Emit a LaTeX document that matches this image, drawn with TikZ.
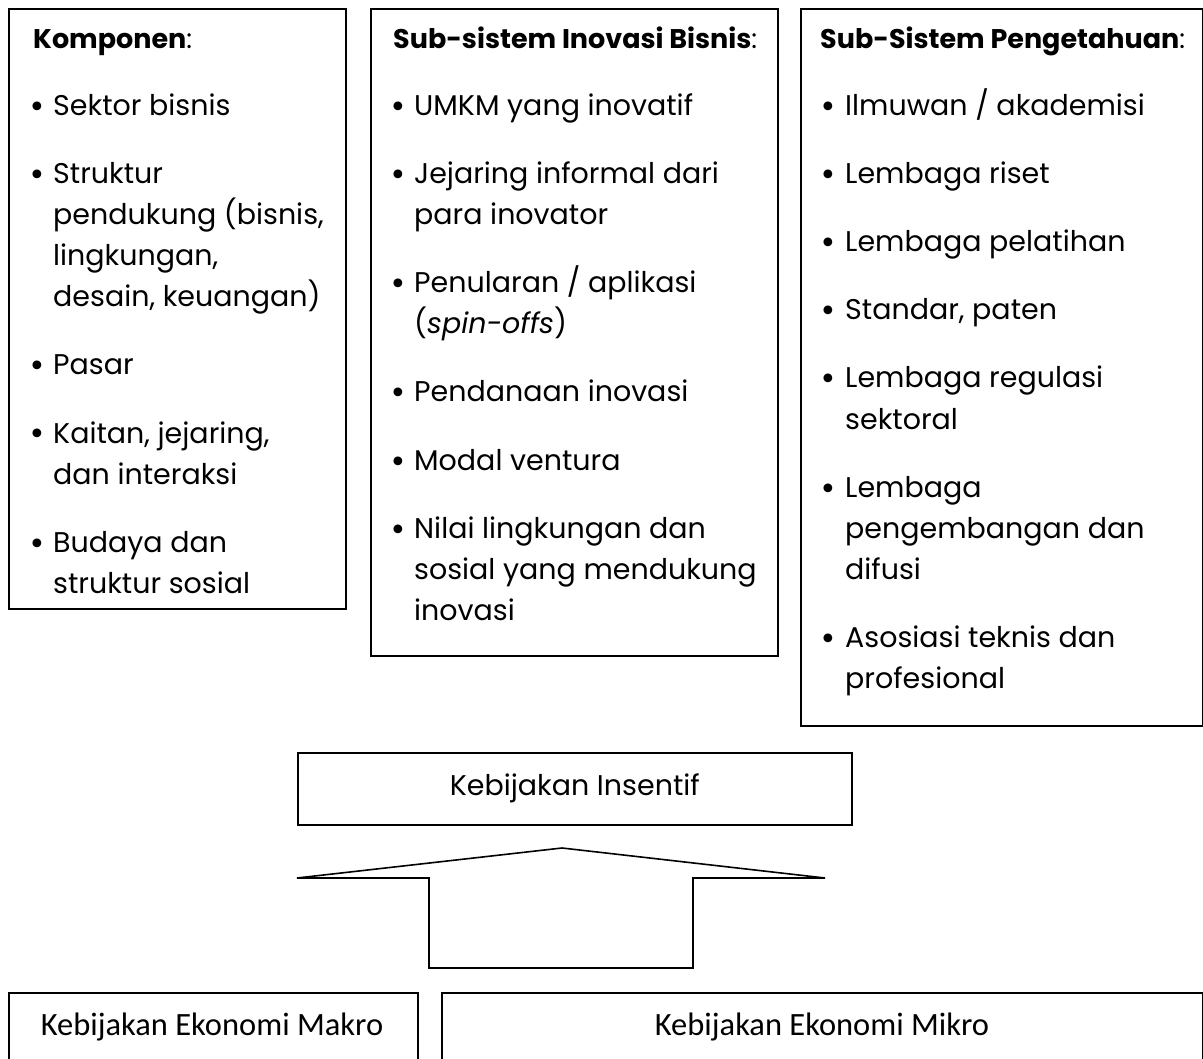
\documentclass[tikz,border=0pt]{standalone}
\usepackage{fontspec}
\setmainfont{Poppins}
\newfontfamily\bottomfont{Carlito}
\newfontfamily\bulfont{DejaVu Sans}
\begin{document}
\begin{tikzpicture}[x=1pt,y=-1pt,
  boxstyle/.style={draw=black, line width=1.6pt, inner sep=0pt, anchor=north west},
  txt/.style={anchor=base west, inner sep=0pt, font=\fontsize{28.5}{35}\selectfont},
  hdr/.style={anchor=base west, inner sep=0pt, font=\fontsize{27}{33}\selectfont},
  bul/.style={anchor=base, inner sep=0pt, yshift=-2pt, font=\bulfont\fontsize{30}{35}\selectfont},
  bottxt/.style={anchor=center, inner sep=0pt, font=\bottomfont\fontsize{32.5}{40}\selectfont},
  ]
\useasboundingbox (0,0) rectangle (1203,1059);
\clip (0,0) rectangle (1203,1059);

% ---------- Box 1 ----------
\node[boxstyle, minimum width=337pt, minimum height=600pt] (box1) at (8,8) {};
\node[hdr] (a0) at (33,49) {\textbf{Komponen}:};
\node[bul] (ab1) at (37,116) {•};
\node[txt] (a1) at (53,116) {Sektor bisnis};
\node[bul] (ab2) at (37,184) {•};
\node[txt] (a2) at (53,184) {Struktur};
\node[txt] (a3) at (53,225) {pendukung (bisnis,};
\node[txt] (a4) at (53,266) {lingkungan,};
\node[txt] (a5) at (53,307) {desain, keuangan)};
\node[bul] (ab6) at (37,375) {•};
\node[txt] (a6) at (53,375) {Pasar};
\node[bul] (ab7) at (37,443) {•};
\node[txt] (a7) at (53,443) {Kaitan, jejaring,};
\node[txt] (a8) at (53,484) {dan interaksi};
\node[bul] (ab9) at (37,552) {•};
\node[txt] (a9) at (53,552) {Budaya dan};
\node[txt] (a10) at (53,593) {struktur sosial};

% ---------- Box 2 ----------
\node[boxstyle, minimum width=407pt, minimum height=647pt] (box2) at (370,8) {};
\node[hdr] (b0) at (393,49) {\textbf{Sub-sistem Inovasi Bisnis}:};
\node[bul] (bb1) at (398,116) {•};
\node[txt] (b1) at (414,116) {UMKM yang inovatif};
\node[bul] (bb2) at (398,184) {•};
\node[txt] (b2) at (414,184) {Jejaring informal dari};
\node[txt] (b3) at (414,225) {para inovator};
\node[bul] (bb4) at (398,293) {•};
\node[txt] (b4) at (414,293) {Penularan / aplikasi};
\node[txt] (b5) at (414,334) {(\textit{spin-offs})};
\node[bul] (bb6) at (398,402) {•};
\node[txt] (b6) at (414,402) {Pendanaan inovasi};
\node[bul] (bb7) at (398,470) {•};
\node[txt] (b7) at (414,470) {Modal ventura};
\node[bul] (bb8) at (398,538) {•};
\node[txt] (b8) at (414,538) {Nilai lingkungan dan};
\node[txt] (b9) at (414,579) {sosial yang mendukung};
\node[txt] (b10) at (414,620) {inovasi};

% ---------- Box 3 ----------
\node[boxstyle, minimum width=402pt, minimum height=717pt] (box3) at (800,8) {};
\node[hdr] (c0) at (820,49) {\textbf{Sub-Sistem Pengetahuan}:};
\node[bul] (cb1) at (828,116) {•};
\node[txt] (c1) at (845,116) {Ilmuwan / akademisi};
\node[bul] (cb2) at (828,184) {•};
\node[txt] (c2) at (845,184) {Lembaga riset};
\node[bul] (cb3) at (828,252) {•};
\node[txt] (c3) at (845,252) {Lembaga pelatihan};
\node[bul] (cb4) at (828,320) {•};
\node[txt] (c4) at (845,320) {Standar, paten};
\node[bul] (cb5) at (828,388) {•};
\node[txt] (c5) at (845,388) {Lembaga regulasi};
\node[txt] (c6) at (845,429) {sektoral};
\node[bul] (cb7) at (828,497) {•};
\node[txt] (c7) at (845,497) {Lembaga};
\node[txt] (c8) at (845,538) {pengembangan dan};
\node[txt] (c9) at (845,579) {difusi};
\node[bul] (cb10) at (828,647) {•};
\node[txt] (c10) at (845,647) {Asosiasi teknis dan};
\node[txt] (c11) at (845,688) {profesional};

% ---------- Kebijakan Insentif ----------
\node[boxstyle, minimum width=554pt, minimum height=72pt, font=\fontsize{28.5}{35}\selectfont] (ins) at (297,752) {Kebijakan Insentif};

% ---------- Block arrow ----------
\draw[line width=1.6pt, line join=miter]
  (297,878) -- (562,848) -- (825,878) -- (693,878) -- (693,968)
  -- (429,968) -- (429,878) -- cycle;

% ---------- Bottom boxes ----------
\node[boxstyle, minimum width=409pt, minimum height=100pt] (makro) at (8,992) {};
\node[bottxt] (makrot) at (212,1027) {Kebijakan Ekonomi Makro};
\node[boxstyle, minimum width=761pt, minimum height=100pt] (mikro) at (441,992) {};
\node[bottxt] (mikrot) at (822,1027) {Kebijakan Ekonomi Mikro};
\end{tikzpicture}
\end{document}
